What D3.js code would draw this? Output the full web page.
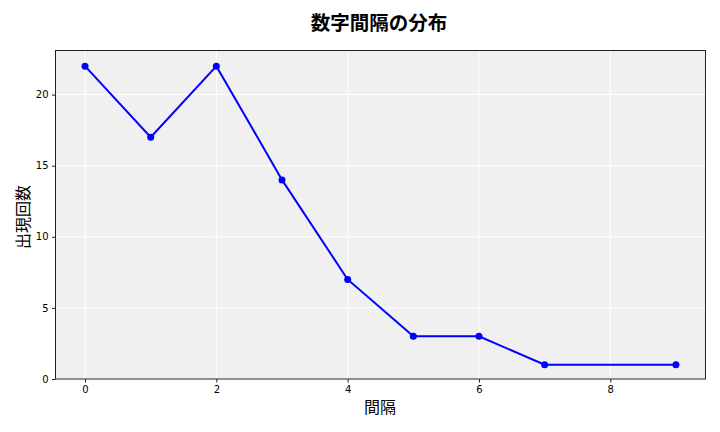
<!DOCTYPE html>
<html><head><meta charset="utf-8">
<script src="https://cdn.jsdelivr.net/npm/d3@7"></script>
<style>body{margin:0;background:#fff}svg{display:block}</style>
</head><body>
<script>
const intervals = [0,1,2,3,4,5,6,7,9];
const counts = [22,17,22,14,7,3,3,1,1];
const xTicks = [0,2,4,6,8];
const yTicks = [0,5,10,15,20];
const title = "数字間隔の分布";
const xLabel = "間隔";
const yLabel = "出現回数";

const W=720,H=432;
const m={left:55.5,right:14.5,top:50.5,bottom:53};
const svg=d3.select("body").append("svg").attr("width",W).attr("height",H);
const x=d3.scaleLinear().domain([-0.45,9.45]).range([m.left,W-m.right]);
const y=d3.scaleLinear().domain([0,23.1]).range([H-m.bottom,m.top]);
const font="'Noto Sans CJK JP','DejaVu Sans',sans-serif";

svg.append("rect").attr("x",m.left).attr("y",m.top).attr("width",W-m.left-m.right).attr("height",H-m.top-m.bottom).attr("fill","#f0f0f0");
const g=svg.append("g");
g.selectAll(".gx").data(xTicks).enter().append("line").attr("x1",d=>x(d)).attr("x2",d=>x(d)).attr("y1",m.top).attr("y2",H-m.bottom).attr("stroke","#fff").attr("stroke-width",1);
g.selectAll(".gy").data(yTicks).enter().append("line").attr("y1",d=>y(d)).attr("y2",d=>y(d)).attr("x1",m.left).attr("x2",W-m.right).attr("stroke","#fff").attr("stroke-width",1);

const data=intervals.map((d,i)=>({x:d,y:counts[i]}));
svg.append("path").datum(data).attr("fill","none").attr("stroke","#0000ff").attr("stroke-width",2).attr("d",d3.line().x(d=>x(d.x)).y(d=>y(d.y)));
svg.selectAll(".pt").data(data).enter().append("circle").attr("cx",d=>x(d.x)).attr("cy",d=>y(d.y)).attr("r",3.5).attr("fill","#0000ff");

svg.append("rect").attr("x",m.left).attr("y",m.top).attr("width",W-m.left-m.right).attr("height",H-m.top-m.bottom).attr("fill","none").attr("stroke","#222").attr("stroke-width",1);

const xa=svg.append("g").attr("transform",`translate(0,${H-m.bottom})`).call(d3.axisBottom(x).tickValues(xTicks).tickSize(3.5).tickPadding(3.5).tickFormat(d3.format("d")));
const ya=svg.append("g").attr("transform",`translate(${m.left},0)`).call(d3.axisLeft(y).tickValues(yTicks).tickSize(3.5).tickPadding(3.5).tickFormat(d3.format("d")));
[xa,ya].forEach(a=>{a.select(".domain").remove();a.selectAll("text").attr("font-family","'DejaVu Sans',sans-serif").attr("font-size",10).attr("fill","#000");a.selectAll("line").attr("stroke","#222");});

svg.append("text").attr("x",379).attr("y",30).attr("text-anchor","middle").attr("font-family",font).attr("font-weight","bold").attr("font-size",19.5).text(title);
svg.append("text").attr("x",380).attr("y",413).attr("text-anchor","middle").attr("font-family",font).attr("font-size",16).text(xLabel);
svg.append("text").attr("transform","translate(29,217) rotate(-90)").attr("text-anchor","middle").attr("font-family",font).attr("font-size",16).text(yLabel);
</script>
</body></html>
